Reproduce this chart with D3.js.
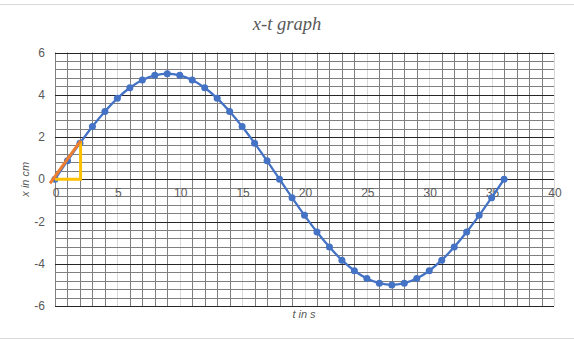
<!DOCTYPE html>
<html lang="en">
<head>
<meta charset="UTF-8">
<title>x-t graph</title>
<script src="https://cdn.jsdelivr.net/npm/d3@7"></script>
<style>
  body { margin: 0; background: #fff; }
  text { font-family: "Liberation Sans", Arial, sans-serif; fill: #595959; }
</style>
</head>
<body>
<script>
// data
var tValues = [0,1,2,3,4,5,6,7,8,9,10,11,12,13,14,15,16,17,18,19,20,21,22,23,24,25,26,27,28,29,30,31,32,33,34,35,36];
var xValues = [0,0.87,1.71,2.5,3.21,3.83,4.33,4.7,4.92,5,4.92,4.7,4.33,3.83,3.21,2.5,1.71,0.87,0,
               -0.87,-1.71,-2.5,-3.21,-3.83,-4.33,-4.7,-4.92,-5,-4.92,-4.7,-4.33,-3.83,-3.21,-2.5,-1.71,-0.87,0];
var tangentT = [-0.4, 2.05];
var tangentX = [-0.2, 1.82];
var triangleT = [0, 2.05, 2.05];
var triangleX = [0, 0, 1.82];
var xTicks = [0,5,10,15,20,25,30,35,40];
var yTicks = [-6,-4,-2,0,2,4,6];

var W = 574, H = 340;
var svg = d3.select("body").append("svg").attr("width", W).attr("height", H);

// chart area border
svg.append("rect").attr("x", -1).attr("y", 4.5).attr("width", W + 2).attr("height", 334)
   .attr("fill", "#fff").attr("stroke", "#d9d9d9");

var x = d3.scaleLinear().domain([0, 40]).range([55, 554]);
var y = d3.scaleLinear().domain([-6, 6]).range([306, 52.5]);

var grid = svg.append("g");
// vertical grid: every 1, majors every 5 are light
grid.selectAll(".vmin").data(d3.range(0, 41).filter(d => d % 5 != 0 || d == 0))
    .enter().append("line")
    .attr("x1", d => Math.round(x(d)) + 0.5).attr("x2", d => Math.round(x(d)) + 0.5)
    .attr("y1", y(6)).attr("y2", y(-6))
    .attr("stroke", "#7f7f7f");
grid.selectAll(".vmaj").data([5,10,15,20,25,30,35,40])
    .enter().append("line")
    .attr("x1", d => Math.round(x(d)) + 0.5).attr("x2", d => Math.round(x(d)) + 0.5)
    .attr("y1", y(6)).attr("y2", y(-6))
    .attr("stroke", "#d9d9d9");
// horizontal grid: every 0.4, majors every 2 are dark
grid.selectAll(".hmin").data(d3.range(0, 31).map(i => -6 + i * 0.4))
    .enter().append("line")
    .attr("x1", x(0)).attr("x2", x(40))
    .attr("y1", d => Math.round(y(d)) + 0.5).attr("y2", d => Math.round(y(d)) + 0.5)
    .attr("stroke", "#7f7f7f");
grid.selectAll(".hmaj").data(yTicks)
    .enter().append("line")
    .attr("x1", x(0)).attr("x2", x(40))
    .attr("y1", d => Math.round(y(d)) + 0.5).attr("y2", d => Math.round(y(d)) + 0.5)
    .attr("stroke", "#262626");

// tick labels
svg.selectAll(".ylab").data(yTicks).enter().append("text")
   .attr("x", 45).attr("y", d => y(d) + 4)
   .attr("text-anchor", "end").attr("font-size", "12px")
   .text(d => d);
svg.selectAll(".xlab").data(xTicks).enter().append("text")
   .attr("x", d => x(d) + 1).attr("y", y(0) + 18)
   .attr("text-anchor", "middle").attr("font-size", "12px")
   .text(d => d);

// series
var pts = tValues.map((t, i) => [t, xValues[i]]);
var line = d3.line().x(d => x(d[0])).y(d => y(d[1])).curve(d3.curveCatmullRom);
svg.append("path").datum(pts).attr("d", line)
   .attr("fill", "none").attr("stroke", "#4472c4").attr("stroke-width", 2.25);
svg.selectAll(".dot").data(pts).enter().append("circle")
   .attr("cx", d => x(d[0])).attr("cy", d => y(d[1])).attr("r", 3.5)
   .attr("fill", "#4472c4");

// triangle + tangent
var tri = triangleT.map((t, i) => [t, triangleX[i]]);
svg.append("path").datum(tri).attr("d", d3.line().x(d => x(d[0])).y(d => y(d[1])))
   .attr("fill", "none").attr("stroke", "#ffc000").attr("stroke-width", 3);
var tan = tangentT.map((t, i) => [t, tangentX[i]]);
svg.append("path").datum(tan).attr("d", d3.line().x(d => x(d[0])).y(d => y(d[1])))
   .attr("fill", "none").attr("stroke", "#ed7d31").attr("stroke-width", 3);

// titles
svg.append("text").attr("x", 287).attr("y", 30).attr("text-anchor", "middle")
   .style("font-family", "'Liberation Serif', 'DejaVu Serif', serif")
   .style("font-style", "italic").attr("font-size", "18.5px")
   .text("x-t graph");
svg.append("text").attr("x", 304).attr("y", 318).attr("text-anchor", "middle")
   .style("font-style", "italic").attr("font-size", "11px")
   .text("t in s");
svg.append("text").attr("transform", "translate(29," + y(0) + ") rotate(-90)")
   .attr("text-anchor", "middle")
   .style("font-style", "italic").attr("font-size", "11px")
   .text("x in cm");
</script>
</body>
</html>
